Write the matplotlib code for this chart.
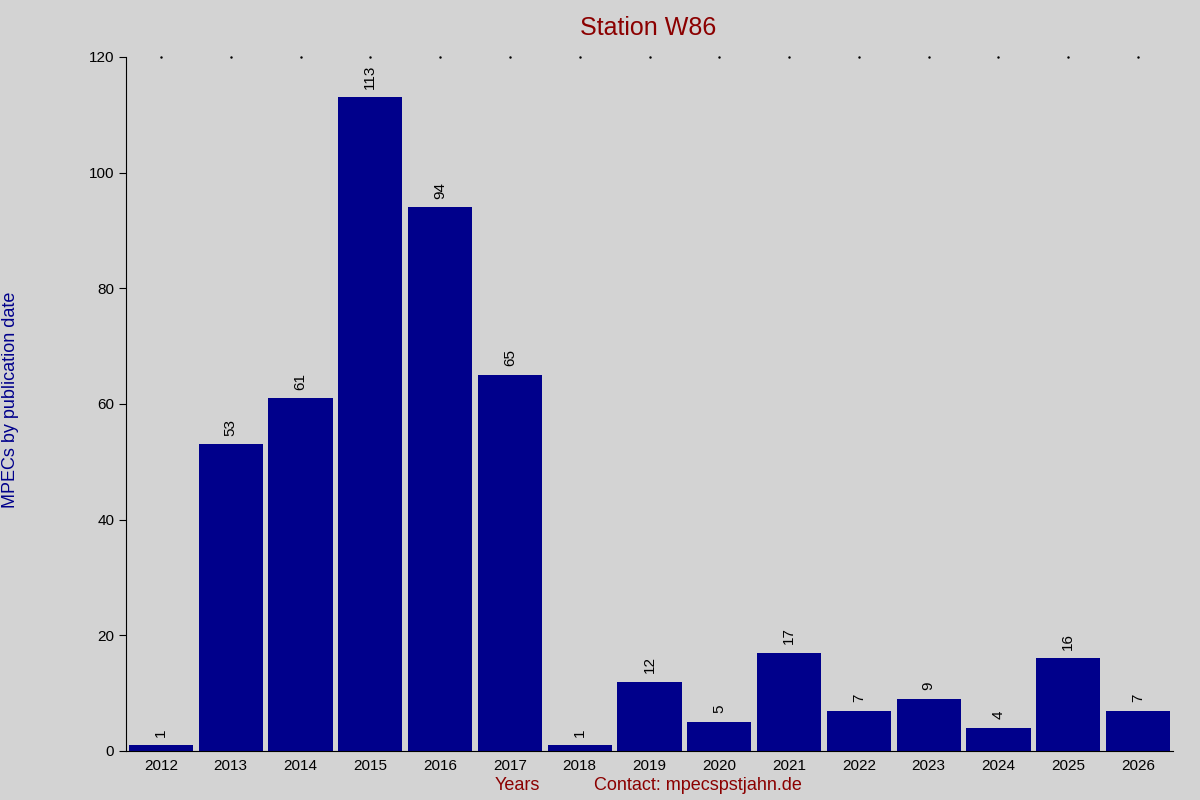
import matplotlib
matplotlib.use("Agg")
import matplotlib.pyplot as plt

plt.rcParams['font.family'] = ['Liberation Sans', 'DejaVu Sans']

years = ["2012", "2013", "2014", "2015", "2016", "2017", "2018", "2019",
         "2020", "2021", "2022", "2023", "2024", "2025", "2026"]
counts = [1, 53, 61, 113, 94, 65, 1, 12, 5, 17, 7, 9, 4, 16, 7]

fig = plt.figure(figsize=(12, 8), dpi=100, facecolor='#d3d3d3')
ax = fig.add_axes([0.105, 0.06125, 0.8725, 0.8675], facecolor='#d3d3d3')

x = list(range(len(years)))
ax.bar(x, counts, width=0.92, color='#00008b')
for xi, v in zip(x, counts):
    ax.text(xi, v + 1.5, str(v), rotation=90, ha='center', va='bottom', fontsize=11)

ax.set_xlim(-0.5, len(years) - 0.5)
ax.set_ylim(0, 120)
ax.set_yticks(range(0, 121, 20))
ax.set_xticks(x)
ax.set_xticklabels(years)
ax.tick_params(axis='both', labelsize=11, direction='out', length=5)
ax.tick_params(axis='x', length=0, pad=6)
for s in ['top', 'right']:
    ax.spines[s].set_visible(False)

# small dots along the top
ax.plot(x, [120] * len(x), linestyle='none', marker='.', markersize=1.5, color='black', clip_on=False)

fig.text(0.54, 0.965, "Station W86", color='#8b0000', fontsize=18, ha='center', va='center')
fig.text(0.009, 0.5, "MPECs by publication date", color='#00008b', fontsize=13,
         rotation=90, ha='center', va='center')
fig.text(0.431, 0.0175, "Years", color='#8b0000', fontsize=13, ha='center', va='center')
fig.text(0.582, 0.0175, "Contact: mpecspstjahn.de", color='#8b0000', fontsize=13, ha='center', va='center')

fig.savefig("out.png", dpi=100, facecolor=fig.get_facecolor())
